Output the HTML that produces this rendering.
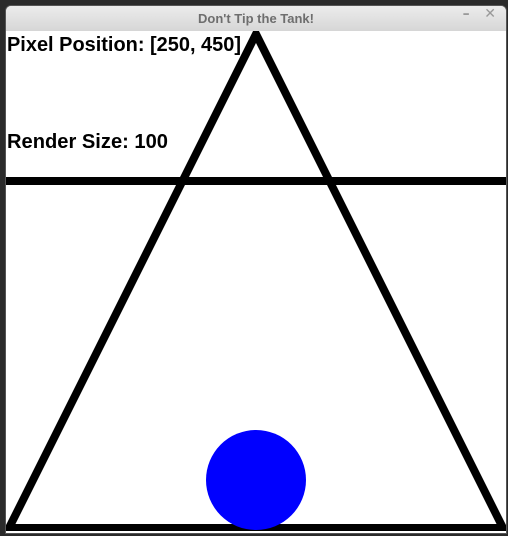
<!DOCTYPE html>
<html><head><meta charset="utf-8"><style>
html,body{margin:0;padding:0;width:508px;height:536px;overflow:hidden;background:#2b2b2b;}
#win{position:absolute;left:6px;top:6px;width:500px;height:527px;background:#fff;border-radius:5px 5px 0 0;overflow:hidden;box-shadow:0 0 0 1px #555;}
#title{position:absolute;left:0;top:0;width:500px;height:25px;background:linear-gradient(#ececec,#d6d6d6);font:bold 13px "Liberation Sans","DejaVu Sans",sans-serif;color:#6e6e6e;text-align:center;line-height:25px;}
#btns{position:absolute;right:10px;top:0;line-height:24px;color:#999;font:bold 14px "DejaVu Sans",sans-serif;}
svg{position:absolute;left:6px;top:31px;}
</style></head><body>
<div id="win">
<div id="title">Don't Tip the Tank!</div>
<div id="btns"><span>–</span>&nbsp;&nbsp;&nbsp;<span>✕</span></div>
</div>
<svg width="500" height="500">
<polygon points="250,3 3,497 497,497" fill="none" stroke="#000" stroke-width="8" stroke-linejoin="miter"/>
<line x1="0" y1="150" x2="500" y2="150" stroke="#000" stroke-width="8"/>
<circle cx="250" cy="449" r="50" fill="#0000ff"/>
<text x="1" y="20" font-family="Liberation Sans, sans-serif" font-weight="bold" font-size="20" textLength="234" lengthAdjust="spacingAndGlyphs">Pixel Position: [250, 450]</text>
<text x="1" y="117" font-family="Liberation Sans, sans-serif" font-weight="bold" font-size="20" textLength="161" lengthAdjust="spacingAndGlyphs">Render Size: 100</text>
</svg>
</body></html>
